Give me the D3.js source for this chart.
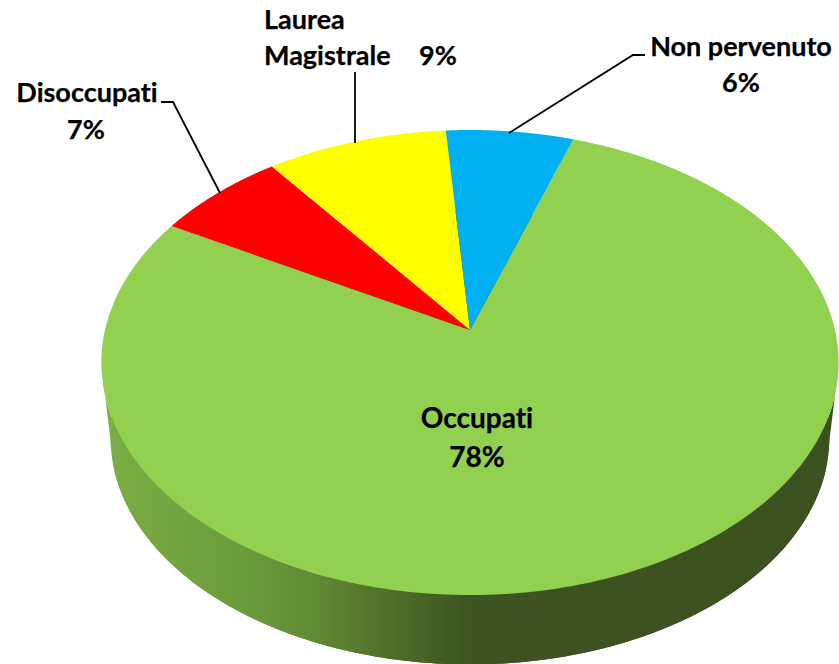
<!DOCTYPE html>
<html><head><meta charset="utf-8">
<script src="https://cdn.jsdelivr.net/npm/d3@7/dist/d3.min.js"></script>
<style>html,body{margin:0;padding:0;background:#fff;overflow:hidden}svg{display:block}
text{font-family:Lato,"Open Sans",sans-serif;font-weight:700;fill:#000;font-variant-ligatures:none;stroke:#000;stroke-width:.25px}</style></head>
<body><svg id="c" width="839" height="664"></svg>
<script>
const categories = ["Occupati", "Disoccupati", "Laurea Magistrale", "Non pervenuto"];
const sliceShares = [77.9, 6.6, 9.1, 6.4];
const labelPercents = ["78%", "7%", "9%", "6%"];
const sliceColors = ["#92d050", "#ff0000", "#ffff00", "#00b0f0"];

const W = 839, H = 664, cx = 470, cy = 330;
const a = 365, b = 228, k = 0.14;
const bottomScale = 0.975, bottomDrop = 76;
const svg = d3.select("#c");
const rad = d3.scaleLinear().domain([0, 360]).range([0, 2 * Math.PI]);

// perspective projection of a point on the unit disc; theta is clockwise from the far side
function proj(theta, r = 1, s = 1, drop = 0) {
  const x = r * Math.sin(theta), y = -r * Math.cos(theta), w = 1 - k * y;
  return [cx + s * a * x / w, cy + drop + s * b * y / w];
}
const line = d3.line();
const sample = (t0, t1, n = 240) => d3.range(n + 1).map(i => t0 + (t1 - t0) * i / n);

const startA = rad(18.7);
const arcs = d3.pie().sort(null).value(d => d)
  .startAngle(startA).endAngle(startA + 2 * Math.PI)(sliceShares);

// side wall
const defs = svg.append("defs");
const grad = defs.append("linearGradient").attr("id", "side")
  .attr("gradientUnits", "userSpaceOnUse").attr("x1", 103).attr("x2", 839).attr("y1", 0).attr("y2", 0);
[[0, "#7cae45"], [0.2, "#6b9a3a"], [0.3, "#5f8733"], [0.4, "#4d6c28"], [0.5, "#3d5321"], [1, "#3c5120"]]
  .forEach(([o, c]) => grad.append("stop").attr("offset", o).attr("stop-color", c));

const t0 = rad(106), t1 = rad(254);
const ribbon = sample(t0, t1).map(t => proj(t))
  .concat(sample(t1, t0).map(t => proj(t, 1, bottomScale, bottomDrop)));
svg.append("path").attr("d", line(sample(0, 2 * Math.PI).map(t => proj(t, 1, bottomScale, bottomDrop))) + "Z").attr("fill", "url(#side)");
svg.append("path").attr("d", line(ribbon) + "Z").attr("fill", "url(#side)");

// top face
svg.append("g").selectAll("path").data(arcs).join("path")
  .attr("fill", (d, i) => sliceColors[i])
  .attr("d", d => line([[cx, cy], ...sample(d.startAngle, d.endAngle).map(t => proj(t))]) + "Z");

// leader lines
const leaders = [
  [[161, 102], [173, 102], [220, 193]],
  [[355, 72], [355, 143]],
  [[645, 55], [633, 55], [509, 133]]
];
svg.append("g").selectAll("path").data(leaders).join("path")
  .attr("d", d => line(d)).attr("fill", "none").attr("stroke", "#000").attr("stroke-width", 1.8);

// labels
function label(str, x, y, anchor = "middle", fs = 27) {
  svg.append("text").attr("x", x).attr("y", y).attr("text-anchor", anchor).attr("font-size", fs).text(str);
}
label(categories[0], 477, 428, "middle", 28); label(labelPercents[0], 477, 467, "middle", 28);
label(categories[1], 87, 102);  label(labelPercents[1], 86, 139);
const lm = categories[2].split(" ");
label(lm[0], 264, 29, "start"); label(lm[1], 264, 65, "start"); label(labelPercents[2], 438, 65);
label(categories[3], 741, 56);  label(labelPercents[3], 741, 92);
</script></body></html>
